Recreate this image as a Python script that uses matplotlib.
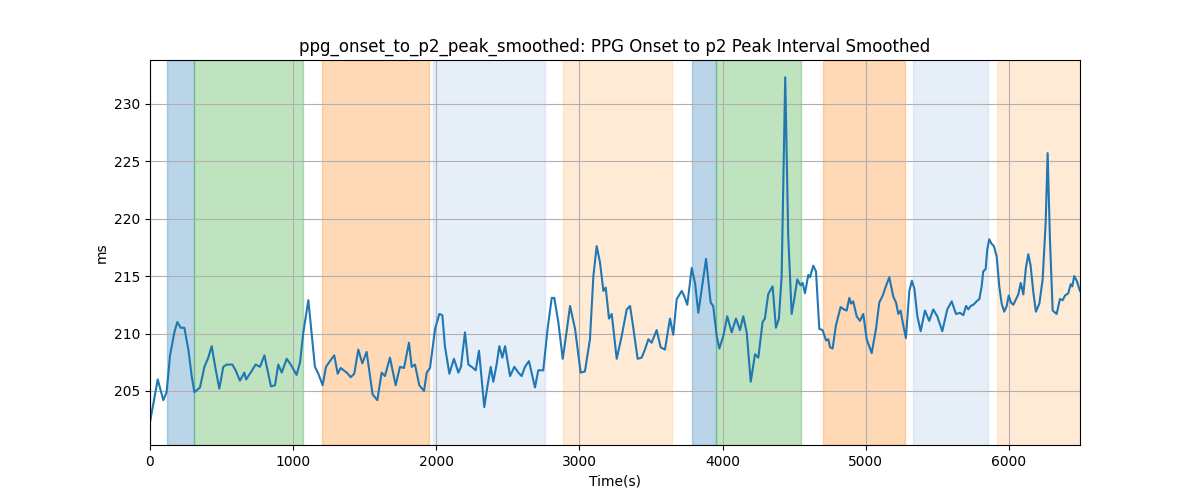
import matplotlib
matplotlib.use('Agg')
import matplotlib.pyplot as plt
import numpy as np

# 时间(s) 与平滑后的间期(ms)
t = [0, 54, 93, 116, 140, 170, 191, 214, 240, 268, 291, 310, 349, 380, 407, 431, 454, 484,
     512, 535, 575, 598, 628, 659, 671, 698, 738, 768, 799, 845, 873, 896, 920, 955, 983,
     1024, 1048, 1071, 1106, 1152, 1176, 1206, 1229, 1257, 1287, 1311, 1332, 1374, 1402,
     1427, 1455, 1483, 1513, 1555, 1588, 1618, 1641, 1676, 1716, 1746, 1774, 1809, 1828,
     1851, 1881, 1914, 1933, 1956, 1991, 2021, 2042, 2060, 2091, 2123, 2154, 2172, 2200,
     2224, 2247, 2275, 2298, 2317, 2335, 2358, 2380, 2398, 2421, 2440, 2461, 2480, 2515,
     2545, 2573, 2596, 2619, 2647, 2689, 2712, 2747, 2777, 2806, 2824, 2852, 2883, 2906,
     2934, 2969, 3008, 3038, 3073, 3097, 3120, 3143, 3167, 3183, 3206, 3225, 3260, 3295,
     3330, 3353, 3377, 3406, 3434, 3457, 3481, 3504, 3539, 3567, 3597, 3632, 3655, 3679,
     3714, 3730, 3753, 3784, 3807, 3830, 3884, 3916, 3934, 3958, 3977, 4005, 4032, 4063,
     4093, 4121, 4144, 4168, 4196, 4226, 4249, 4279, 4295, 4318, 4330, 4349, 4372, 4393,
     4412, 4437, 4458, 4482, 4500, 4521, 4544, 4559, 4575, 4598, 4610, 4633, 4652, 4675,
     4698, 4722, 4738, 4750, 4768, 4791, 4824, 4847, 4866, 4885, 4896, 4912, 4936, 4959,
     4982, 5006, 5041, 5071, 5094, 5118, 5134, 5164, 5192, 5211, 5227, 5243, 5257, 5280,
     5304, 5322, 5339, 5360, 5383, 5413, 5443, 5471, 5499, 5534, 5569, 5600, 5630, 5658,
     5681, 5700, 5716, 5733, 5751, 5774, 5793, 5809, 5820, 5837, 5848, 5862, 5879, 5895,
     5914, 5932, 5949, 5967, 5984, 5998, 6014, 6030, 6049, 6065, 6082, 6100, 6118, 6135,
     6151, 6170, 6188, 6212, 6235, 6256, 6270, 6286, 6305, 6333, 6356, 6375, 6391, 6414,
     6431, 6442, 6456, 6473, 6496]
val = [202.3, 206.0, 204.2, 204.9, 208.1, 210.1, 211.0, 210.5, 210.5, 208.6, 206.3, 204.9,
       205.3, 207.1, 207.9, 208.9, 207.2, 205.2, 207.1, 207.3, 207.3, 206.8, 205.9, 206.6,
       206.0, 206.5, 207.3, 207.1, 208.1, 205.4, 205.5, 207.3, 206.6, 207.8, 207.3, 206.4,
       207.5, 210.1, 212.9, 207.1, 206.5, 205.5, 207.1, 207.6, 208.1, 206.5, 207.0, 206.6,
       206.2, 206.5, 208.6, 207.4, 208.4, 204.7, 204.2, 206.6, 206.3, 207.9, 205.5, 207.1,
       207.0, 209.2, 207.1, 207.3, 205.5, 205.0, 206.6, 207.0, 210.4, 211.7, 211.6, 208.9,
       206.5, 207.8, 206.6, 207.1, 210.1, 207.3, 207.1, 206.8, 208.5, 206.0, 203.6, 205.5,
       207.1, 205.8, 207.3, 208.9, 207.9, 208.9, 206.3, 207.1, 206.6, 206.3, 207.1, 207.6,
       205.3, 206.8, 206.8, 210.4, 213.1, 213.1, 211.0, 207.8, 209.8, 212.4, 210.4, 206.6,
       206.7, 209.5, 215.0, 217.6, 216.2, 213.7, 214.0, 211.3, 211.7, 207.8, 209.8, 212.1,
       212.4, 210.4, 207.8, 207.9, 208.6, 209.5, 209.2, 210.3, 208.8, 208.6, 211.3, 209.9,
       213.0, 213.7, 213.3, 212.5, 215.7, 214.4, 211.8, 216.5, 212.7, 212.4, 209.8, 208.7,
       209.8, 211.5, 210.1, 211.3, 210.3, 211.5, 210.1, 205.8, 208.2, 207.9, 211.0, 211.3,
       213.4, 213.7, 214.1, 210.5, 211.3, 215.0, 232.3, 218.5, 211.7, 213.0, 214.7, 214.2,
       214.4, 213.5, 215.1, 214.9, 215.9, 215.4, 210.4, 210.3, 209.4, 209.5, 208.8, 208.7,
       210.7, 212.3, 212.1, 212.0, 213.1, 212.6, 212.8, 211.5, 211.1, 211.7, 209.5, 208.3,
       210.4, 212.7, 213.3, 213.9, 214.9, 213.2, 212.7, 211.7, 212.0, 211.0, 209.6, 213.7,
       214.6, 213.9, 211.5, 210.2, 212.0, 211.1, 212.1, 211.5, 210.2, 212.1, 212.8, 211.7,
       211.8, 211.6, 212.4, 212.1, 212.4, 212.5, 212.8, 213.0, 214.1, 215.4, 215.6, 217.3,
       218.2, 217.8, 217.6, 216.7, 214.1, 212.6, 211.9, 212.4, 213.3, 212.7, 212.5, 213.0,
       213.4, 214.4, 213.4, 215.7, 216.9, 215.9, 213.6, 211.9, 212.6, 214.7, 219.6, 225.7,
       218.2, 212.0, 211.7, 213.0, 212.9, 213.3, 213.5, 214.3, 214.1, 215.0, 214.6, 213.7]

# 阶段区间
span_start = [121, 310, 1204, 1975, 2883, 3788, 3953, 4703, 5327, 5918]
span_end = [310, 1071, 1949, 2759, 3644, 3953, 4545, 5273, 5851, 6496]
span_color = ['tab:blue', 'tab:green', 'tab:orange', '#aec7e8', '#ffbb78',
              'tab:blue', 'tab:green', 'tab:orange', '#aec7e8', '#ffbb78']

fig, ax = plt.subplots(figsize=(12, 5), dpi=100)
for s, e, c in zip(span_start, span_end, span_color):
    ax.axvspan(s, e, color=c, alpha=0.3)

ax.plot(t, val, color='tab:blue')

ax.set_xlim(0, 6496)
ax.set_ylim(200.3, 233.8)
ax.set_title('ppg_onset_to_p2_peak_smoothed: PPG Onset to p2 Peak Interval Smoothed')
ax.set_xlabel('Time(s)')
ax.set_ylabel('ms')
ax.grid(True)

fig.savefig('out.png')
